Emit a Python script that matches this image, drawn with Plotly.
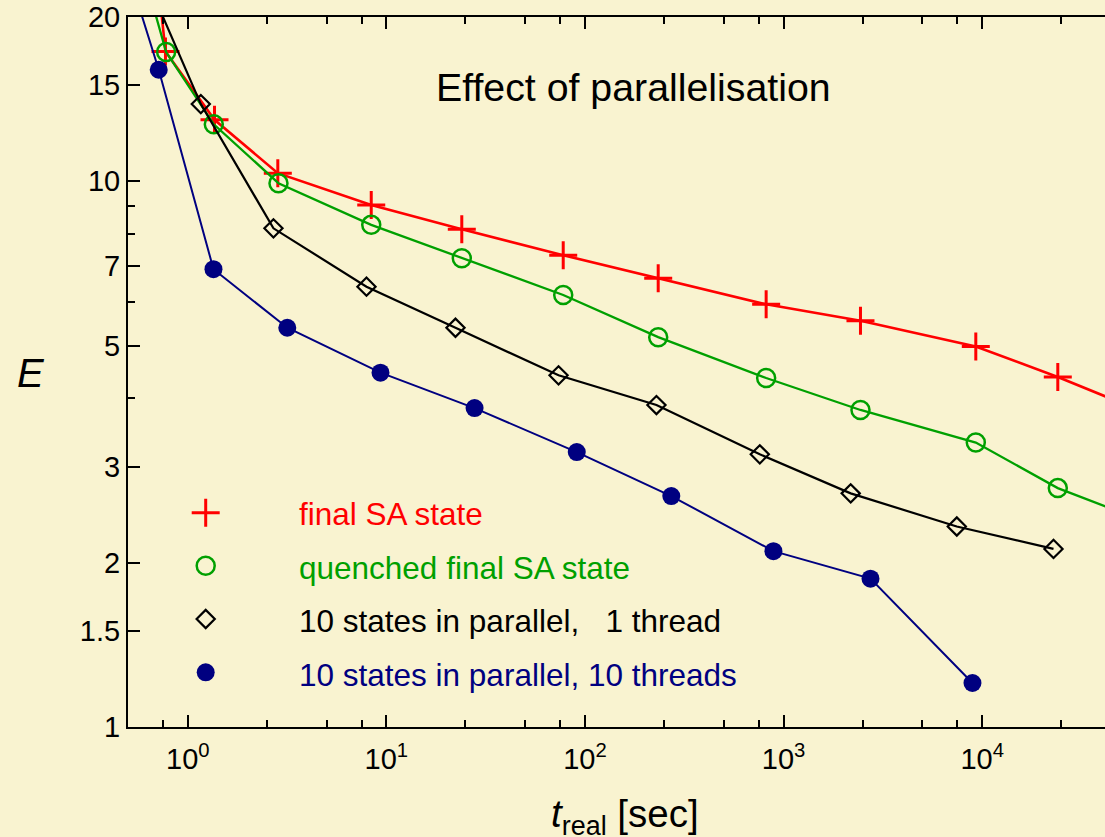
import math
import plotly.graph_objects as go

# ---- data: run time (s) vs. energy E ----
t_final = [0.45, 0.772, 1.363, 2.84, 8.39, 23.97, 77.7, 233.7, 817, 2439, 9286, 24030, 72000]
E_final = [115, 17.29, 12.96, 10.35, 9.05, 8.17, 7.32, 6.64, 5.95, 5.55, 4.98, 4.38, 3.72]

t_quench = [0.45, 0.778, 1.352, 2.862, 8.39, 23.97, 77.7, 233.7, 817, 2439, 9286, 24030, 72000]
E_quench = [35.0, 17.25, 12.72, 9.92, 8.32, 7.23, 6.19, 5.18, 4.36, 3.81, 3.32, 2.74, 2.35]

t_par1 = [0.45, 1.163, 2.70, 7.94, 22.28, 73.6, 229, 759, 2177, 7450, 22860]
E_par1 = [30.7, 13.85, 8.20, 6.41, 5.39, 4.41, 3.89, 3.16, 2.68, 2.33, 2.12]

t_par10 = [0.45, 0.714, 1.347, 3.17, 9.34, 27.8, 90.9, 272, 889, 2739, 8935]
E_par10 = [27.4, 16.01, 6.90, 5.39, 4.46, 3.84, 3.19, 2.65, 2.10, 1.87, 1.204]

labels = [
    "final SA state",
    "quenched final SA state",
    "10 states in parallel,\u00a0\u00a0\u00a01 thread",
    "10 states in parallel, 10 threads",
]

x_tickvals = [1, 10, 100, 1000, 10000]
x_ticktext = ["10<sup>0</sup>", "10<sup>1</sup>", "10<sup>2</sup>", "10<sup>3</sup>", "10<sup>4</sup>"]
x_minor = [m * 10 ** e for e in range(-1, 5) for m in (2.5, 5, 7.5)]
y_tickvals = [1, 1.5, 2, 3, 5, 7, 10, 15, 20]
y_ticktext = ["1", "1.5", "2", "3", "5", "7", "10", "15", "20"]
y_minor = [4, 6, 8, 9]

# ---- layout geometry ----
W, H = 1105, 837
ML, MR, MT, MB = 128, 0, 17, 110
PW = W - ML - MR
PH = H - MT - MB
BG = "#f9f3d0"
FONT = "Liberation Sans, Arial, Helvetica, sans-serif"

RED, GREEN, BLACK, NAVY = "#ff0000", "#00a000", "#000000", "#000080"


def paper_x(px):
    return (px - ML) / PW


def paper_y(py):
    return (H - MB - py) / PH


styles = [
    (t_final, E_final, RED, 2.6,
     dict(symbol="cross-thin", size=20, color=RED, line=dict(width=3, color=RED))),
    (t_quench, E_quench, GREEN, 2.3,
     dict(symbol="circle-open", size=18, color=GREEN, line=dict(width=2.5, color=GREEN))),
    (t_par1, E_par1, BLACK, 2.2,
     dict(symbol="diamond-open", size=14, color=BLACK, line=dict(width=2.2, color=BLACK))),
    (t_par10, E_par10, NAVY, 2.0,
     dict(symbol="circle", size=18, color=NAVY, line=dict(width=0))),
]

fig = go.Figure()
for (xs, ys, col, lw, mk), name in zip(styles, labels):
    fig.add_trace(go.Scatter(
        x=xs, y=ys, mode="lines+markers", name=name,
        line=dict(color=col, width=lw), marker=mk,
        cliponaxis=True, showlegend=False,
    ))

# key: symbols on a pixel-aligned overlay axis, text as annotations
key_x = 205.7
key_y = [512.7, 565.7, 619.0, 672.3]
key_text_y = [514, 568, 621, 675]
for (xs, ys, col, lw, mk), yy in zip(styles, key_y):
    fig.add_trace(go.Scatter(
        x=[key_x], y=[yy], mode="markers", marker=mk,
        xaxis="x2", yaxis="y2", showlegend=False, hoverinfo="skip",
    ))

annotations = []
for (xs, ys, col, lw, mk), name, yy in zip(styles, labels, key_text_y):
    annotations.append(dict(
        xref="paper", yref="paper", x=paper_x(297), y=paper_y(yy),
        xanchor="left", yanchor="middle", showarrow=False,
        text=name, font=dict(family=FONT, size=31.5, color=col),
    ))

annotations += [
    dict(xref="paper", yref="paper", x=paper_x(633), y=paper_y(87),
         xanchor="center", yanchor="middle", showarrow=False,
         text="Effect of parallelisation", font=dict(family=FONT, size=39.3, color=BLACK)),
    dict(xref="paper", yref="paper", x=paper_x(31), y=paper_y(373),
         xanchor="center", yanchor="middle", showarrow=False,
         text="<i>E</i>", font=dict(family=FONT, size=40, color=BLACK)),
    dict(xref="paper", yref="paper", x=paper_x(625), y=paper_y(816),
         xanchor="center", yanchor="middle", showarrow=False,
         text="<i>t</i><sub>real</sub> [sec]", font=dict(family=FONT, size=38.5, color=BLACK)),
]

axis_common = dict(
    showgrid=False, zeroline=False, showline=True, linecolor=BLACK, linewidth=2,
    ticks="inside", ticklen=12, tickwidth=2, tickcolor=BLACK,
    tickfont=dict(family=FONT, size=29, color=BLACK),
)

fig.update_layout(
    width=W, height=H,
    margin=dict(l=ML, r=MR, t=MT, b=MB, pad=0),
    paper_bgcolor=BG, plot_bgcolor=BG,
    font=dict(family=FONT, color=BLACK),
    xaxis=dict(
        type="log",
        range=[math.log10(0.5), math.log10(0.5) + PW / 198.6],
        tickmode="array", tickvals=x_tickvals, ticktext=x_ticktext,
        mirror="ticks", ticklabelstandoff=5,
        minor=dict(tickmode="array", tickvals=x_minor, ticks="inside",
                   ticklen=7, tickwidth=2, tickcolor=BLACK, showgrid=False),
        **axis_common,
    ),
    yaxis=dict(
        type="log",
        range=[0, math.log10(20)],
        tickmode="array", tickvals=y_tickvals, ticktext=y_ticktext,
        mirror=False,
        minor=dict(tickmode="array", tickvals=y_minor, ticks="inside",
                   ticklen=7, tickwidth=2, tickcolor=BLACK, showgrid=False),
        **axis_common,
    ),
    xaxis2=dict(overlaying="x", range=[ML, W - MR], visible=False, fixedrange=True),
    yaxis2=dict(overlaying="y", range=[H - MB, MT], visible=False, fixedrange=True),
    annotations=annotations,
    showlegend=False,
)

fig.write_html("out.html")
